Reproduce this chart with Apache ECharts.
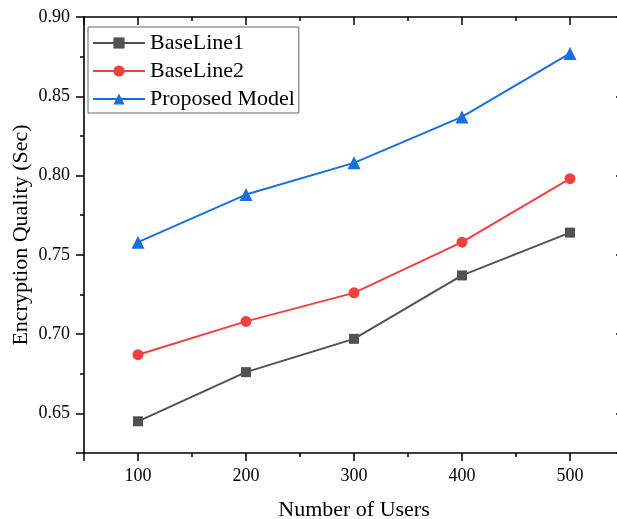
<!DOCTYPE html>
<html>
<head>
<meta charset="utf-8">
<script src="https://cdn.jsdelivr.net/npm/echarts@6/dist/echarts.min.js"></script>
<style>
  html, body { margin: 0; padding: 0; background: #fff; }
  #main { width: 617px; height: 519px; }
</style>
</head>
<body>
<div id="main"></div>
<script>
// data
var users = [100, 200, 300, 400, 500];
var baseLine1 = [0.645, 0.676, 0.697, 0.737, 0.764];
var baseLine2 = [0.687, 0.708, 0.726, 0.758, 0.798];
var proposed = [0.758, 0.788, 0.808, 0.837, 0.877];

var fontName = 'Liberation Serif';

function pairs(ys) {
    var res = [];
    for (var i = 0; i < users.length; i++) {
        res.push([users[i], ys[i]]);
    }
    return res;
}

var myChart = echarts.init(document.getElementById('main'));

var lineSeries = function (name, ys, color, symbol, size) {
    return {
        name: name,
        type: 'line',
        xAxisIndex: 0,
        yAxisIndex: 0,
        data: pairs(ys),
        symbol: symbol,
        symbolSize: size,
        lineStyle: { color: color, width: 2 },
        itemStyle: { color: color },
        animation: false
    };
};

var option = {
    backgroundColor: '#fff',
    textStyle: { fontFamily: fontName },
    grid: { left: 84, right: -7, top: 17, bottom: 66, outerBoundsMode: 'none', containLabel: false },
    legend: {
        orient: 'vertical',
        left: 88,
        top: 27,
        padding: [5, 4, 3, 4],
        itemGap: 6,
        itemWidth: 52,
        itemHeight: 14,
        borderColor: '#666',
        borderWidth: 1,
        textStyle: { fontFamily: fontName, fontSize: 22, color: '#000' },
        data: ['BaseLine1', 'BaseLine2', 'Proposed Model']
    },
    xAxis: [{
        type: 'value',
        position: 'bottom',
        min: 50,
        max: 550,
        splitNumber: 5,
        name: 'Number of Users',
        nameLocation: 'middle',
        nameGap: 46,
        nameMoveOverlap: false,
        nameTextStyle: { fontFamily: fontName, fontSize: 22, color: '#000' },
        axisLine: { lineStyle: { color: '#000', width: 1.6 } },
        axisTick: { inside: false, length: 8, lineStyle: { color: '#000', width: 1.5 } },
        minorTick: { show: true, splitNumber: 2, length: 4, lineStyle: { color: '#000', width: 1.5 } },
        axisLabel: { showMinLabel: false, showMaxLabel: false, margin: 14, fontFamily: fontName, fontSize: 18, color: '#000' },
        splitLine: { show: false }
    }, {
        type: 'value',
        position: 'top',
        min: 50,
        max: 550,
        splitNumber: 5,
        axisLine: { lineStyle: { color: '#000', width: 1.6 } },
        axisTick: { inside: true, length: 8, lineStyle: { color: '#000', width: 1.5 } },
        minorTick: { show: true, splitNumber: 2, length: 4, lineStyle: { color: '#000', width: 1.5 } },
        axisLabel: { show: false },
        splitLine: { show: false }
    }],
    yAxis: [{
        type: 'value',
        position: 'left',
        min: 0.625,
        max: 0.9,
        splitNumber: 5,
        name: 'Encryption Quality (Sec)',
        nameLocation: 'middle',
        nameGap: 52,
        nameMoveOverlap: false,
        nameTextStyle: { fontFamily: fontName, fontSize: 22, color: '#000' },
        axisLine: { show: true, lineStyle: { color: '#000', width: 1.6 } },
        axisTick: { show: true, inside: false, length: 8, lineStyle: { color: '#000', width: 1.5 } },
        minorTick: { show: true, splitNumber: 2, length: 4, lineStyle: { color: '#000', width: 1.5 } },
        axisLabel: {
            showMinLabel: false,
            margin: 14,
            fontFamily: fontName,
            fontSize: 18,
            color: '#000',
            formatter: function (v) { return v.toFixed(2); }
        },
        splitLine: { show: false }
    }, {
        type: 'value',
        position: 'right',
        min: 0.625,
        max: 0.9,
        splitNumber: 5,
        axisLine: { show: true, lineStyle: { color: '#000', width: 1.6 } },
        axisTick: { show: true, inside: true, length: 8, lineStyle: { color: '#000', width: 1.5 } },
        minorTick: { show: true, splitNumber: 2, length: 4, lineStyle: { color: '#000', width: 1.5 } },
        axisLabel: { show: false },
        splitLine: { show: false }
    }],
    series: [
        lineSeries('BaseLine1', baseLine1, '#515151', 'rect', 10),
        lineSeries('BaseLine2', baseLine2, '#F14040', 'circle', 11),
        lineSeries('Proposed Model', proposed, '#1A6FDF', 'triangle', 13)
    ]
};

myChart.setOption(option);
</script>
</body>
</html>
